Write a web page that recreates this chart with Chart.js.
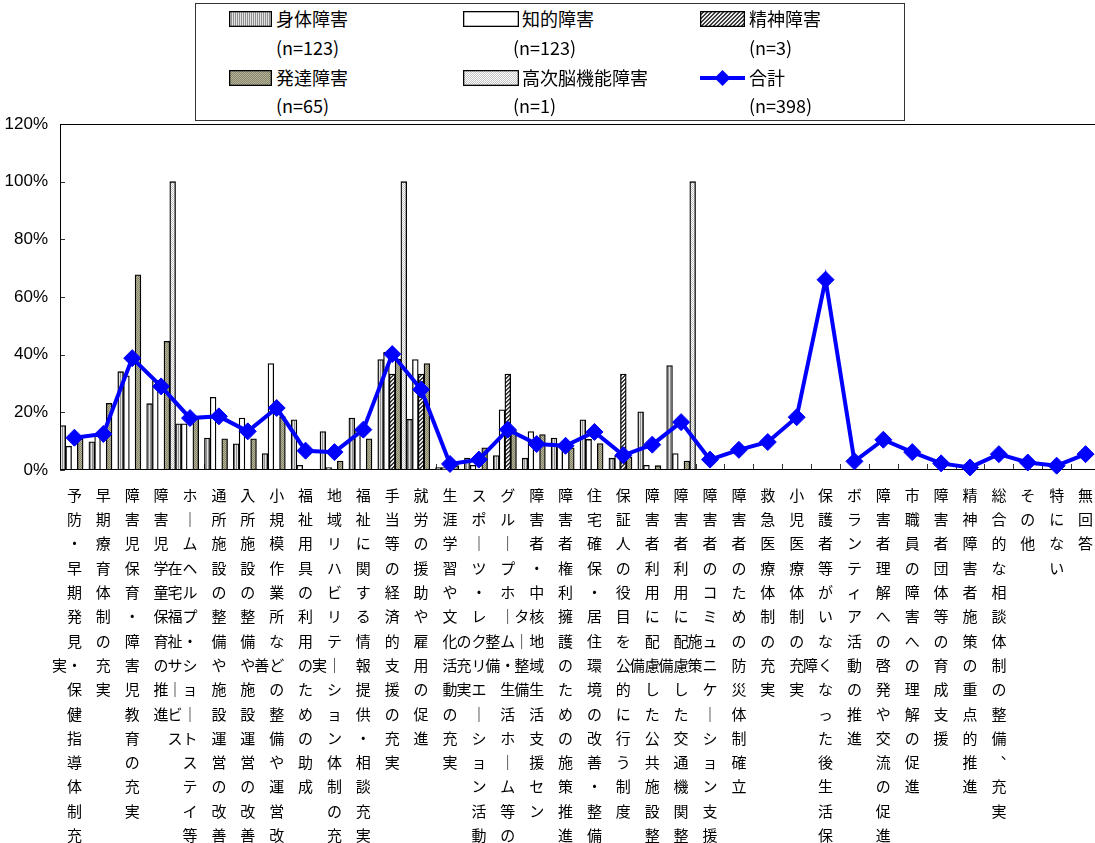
<!DOCTYPE html>
<html>
<head>
<meta charset="utf-8">
<script src="https://cdn.jsdelivr.net/npm/chart.js@4"></script>
<style>
html,body{margin:0;padding:0;background:#fff;overflow:hidden;}
#wrap{position:relative;width:1095px;height:843px;overflow:hidden;background:#fff;}
#c{position:absolute;left:0;top:0;}
#legend{position:absolute;left:195px;top:3px;width:710px;height:118px;border:1px solid #333;box-sizing:border-box;background:#fff;}
.sw{position:absolute;}
.lab{position:absolute;font-family:"Noto Sans CJK JP","Noto Sans",sans-serif;font-size:18px;line-height:20px;white-space:nowrap;color:#000;}
</style>
</head>
<body>
<div id="wrap">
  <canvas id="c" width="1100" height="843"></canvas>
  <div id="legend"></div>
</div>
<script>
// ---------------- data ----------------
const categories = [
  '予防・早期発見・保健指導体制充実',
  '早期療育体制の充実',
  '障害児保育・障害児教育の充実',
  '障害児学童保育の推進',
  '在宅福祉サービス(ホームヘルプ・ショートステイ等)',
  '通所施設の整備や施設運営の改善',
  '入所施設の整備や施設運営の改善',
  '小規模作業所などの整備や運営改善',
  '福祉用具の利用のための助成',
  '地域リハビリテーション体制の充実',
  '福祉に関する情報提供・相談充実',
  '手当等の経済的支援の充実',
  '就労の援助や雇用の促進',
  '生涯学習や文化活動の充実',
  'スポーツ・レクリエーション活動の充実',
  'グループホーム・生活ホーム等の整備',
  '障害者・中核地域生活支援センター整備',
  '障害者権利擁護のための施策推進',
  '住宅確保・居住環境の改善・整備',
  '保証人の役目を公的に行う制度',
  '障害者利用に配慮した公共施設整備',
  '障害者利用に配慮した交通機関整備',
  '障害者のコミュニケーション支援施策',
  '障害者のための防災体制確立',
  '救急医療体制の充実',
  '小児医療体制の充実',
  '保護者等がいなくなった後生活保障',
  'ボランティア活動の推進',
  '障害者理解への啓発や交流の促進',
  '市職員の障害への理解の促進',
  '障害者団体等の育成支援',
  '精神障害者施策の重点的推進',
  '総合的な相談体制の整備、充実',
  'その他',
  '特にない',
  '無回答'
];

const seriesNames = ['身体障害', '知的障害', '精神障害', '発達障害', '高次脳機能障害', '合計'];
const seriesN = [123, 123, 3, 65, 1, 398];

const shintai = [15.4, 9.8, 34.1, 23.0, 16.0, 11.1, 9.1, 5.7, 17.4, 13.3, 18.0, 38.3, 17.6, 0.8, 4.1, 5.0, 4.1, 11.1, 17.4, 4.1, 20.2, 36.2,
  null, null, null, null, null, null, null, null, null, null, null, null, null, null];
const chiteki = [8.2, 12.0, 32.7, 31.0, 16.0, 25.2, 18.0, 36.9, 1.6, 0.8, 14.0, 40.8, 38.3, 0.8, 1.6, 20.9, 13.3, 9.0, 10.6, 4.9, 1.6, 5.7,
  null, null, null, null, null, null, null, null, null, null, null, null, null, null];
const seishin = [0, 0, 0, 0, 0, 0, 0, 0, 0, 0, 0, 33.3, 33.3, 0, 0, 33.3, 0, 0, 0, 33.3, 0, 0,
  null, null, null, null, null, null, null, null, null, null, null, null, null, null];
const hattatsu = [10.8, 23.1, 67.7, 44.6, 18.5, 10.8, 10.8, 18.5, 0, 3.1, 10.8, 38.5, 36.9, 1.5, 7.7, 13.8, 12.3, 7.7, 9.2, 4.6, 1.5, 3.1,
  null, null, null, null, null, null, null, null, null, null, null, null, null, null];
const koujinou = [0, 0, 0, 100, 0, 0, 0, 0, 0, 0, 0, 100, 0, 0, 0, 0, 0, 0, 0, 0, 0, 100,
  null, null, null, null, null, null, null, null, null, null, null, null, null, null];
const goukei = [11.2, 12.5, 38.8, 29.0, 18.0, 18.6, 13.4, 21.5, 6.7, 6.2, 14.0, 40.2, 27.9, 2.1, 3.6, 14.0, 9.0, 8.4, 13.2, 5.1, 8.8, 16.6,
  3.6, 7.0, 9.7, 18.3, 66.0, 3.0, 10.5, 6.2, 2.3, 0.9, 5.5, 2.6, 1.5, 5.5];

const yTicks = [0, 20, 40, 60, 80, 100, 120];

// ---------------- vertical label layout (Excel style) ----------------
function vert(c) {
  if (c === 'ー') return '｜';
  if (c === '、') return '︑';
  return c;
}
function verticalLines(label) {
  let main, side = '';
  const m = label.match(/^(.*)\((.*)\)$/);
  if (m) { side = m[1]; main = m[2]; }
  else {
    let n = Math.min(15, label.length);
    while (n < label.length && /[ーァィゥェォャュョッっゃゅょ、。]/.test(label[n])) n--;
    main = label.slice(0, n); side = label.slice(n);
  }
  const mc = [...main].map(vert);
  const sc = [...side].map(vert);
  const start = 7 - Math.floor(sc.length / 2);
  return mc.map((c, i) => {
    const j = i - start;
    if (sc.length && j >= 0 && j < sc.length) return sc[j] + c + '\u3000';
    return c;
  });
}

// ---------------- fill patterns ----------------
function makePattern(ctx, kind) {
  const c = document.createElement('canvas');
  const g = c.getContext('2d');
  if (kind === 'white') return '#ffffff';
  if (kind === 'vstripe') {
    c.width = 2; c.height = 2;
    g.fillStyle = '#e2e2e2'; g.fillRect(0, 0, 2, 2);
    g.fillStyle = '#909090'; g.fillRect(0, 0, 1, 2);
  } else if (kind === 'diag') {
    c.width = 4; c.height = 4;
    g.fillStyle = '#eeeeee'; g.fillRect(0, 0, 4, 4);
    g.fillStyle = '#3c3c3c';
    for (let i = 0; i < 4; i++) { g.fillRect((3 - i), i, 1, 1); g.fillRect((4 - i) % 4, i, 1, 1); }
  } else if (kind === 'olive') {
    c.width = 2; c.height = 2;
    g.fillStyle = '#b6b49a'; g.fillRect(0, 0, 2, 2);
    g.fillStyle = '#88866a'; g.fillRect(0, 0, 1, 1); g.fillRect(1, 1, 1, 1);
  } else if (kind === 'dots') {
    c.width = 2; c.height = 2;
    g.fillStyle = '#ffffff'; g.fillRect(0, 0, 2, 2);
    g.fillStyle = '#c4c4c4'; g.fillRect(0, 0, 1, 1); g.fillRect(1, 1, 1, 1);
  }
  return ctx.createPattern(c, 'repeat');
}
const kinds = ['vstripe', 'white', 'diag', 'olive', 'dots'];

// ---------------- frame / inward ticks plugin ----------------
const framePlugin = {
  id: 'frame',
  beforeDatasetsDraw(chart) {
    const { ctx, chartArea: a, scales: { x, y } } = chart;
    ctx.save();
    ctx.strokeStyle = '#333';
    ctx.lineWidth = 1;
    ctx.beginPath();
    y.ticks.forEach(t => {
      const py = Math.round(y.getPixelForValue(t.value)) + 0.5;
      ctx.moveTo(a.left, py); ctx.lineTo(a.left + 5, py);
    });
    const half = (x.getPixelForValue(1) - x.getPixelForValue(0)) / 2;
    for (let i = 0; i <= categories.length; i++) {
      const px = Math.round(x.getPixelForValue(i) - half) + 0.5;
      ctx.moveTo(px, a.bottom); ctx.lineTo(px, a.bottom - 6);
    }
    ctx.stroke();
    ctx.strokeStyle = '#000';
    ctx.strokeRect(Math.round(a.left) + 0.5, Math.round(a.top) + 0.5,
      Math.round(a.right - a.left) - 1, Math.round(a.bottom - a.top) - 1);
    ctx.restore();
  }
};

// ---------------- chart ----------------
const canvas = document.getElementById('c');
const ctx = canvas.getContext('2d');
const barSeries = [shintai, chiteki, seishin, hattatsu, koujinou];

const datasets = barSeries.map((d, i) => ({
  type: 'bar',
  label: seriesNames[i],
  data: d,
  backgroundColor: makePattern(ctx, kinds[i]),
  borderColor: '#000',
  borderWidth: 1.3,
  borderSkipped: false,
  categoryPercentage: 1.0,
  barPercentage: 1.0,
  order: 1
}));
datasets.push({
  type: 'line',
  label: seriesNames[5],
  data: goukei,
  borderColor: '#0000ff',
  backgroundColor: '#0000ff',
  borderWidth: 4,
  pointStyle: 'rectRot',
  pointRadius: 8.5,
  pointBackgroundColor: '#0000ff',
  pointBorderColor: '#0000ff',
  pointBorderWidth: 1,
  tension: 0,
  order: 0,
  clip: false
});

const chart = new Chart(ctx, {
  data: { labels: categories.map(verticalLines), datasets },
  options: {
    responsive: false,
    animation: false,
    devicePixelRatio: 1,
    layout: { autoPadding: false, padding: { top: 124, right: 0, left: 0, bottom: 0 } },
    plugins: { legend: { display: false }, tooltip: { enabled: false } },
    scales: {
      x: {
        offset: true,
        grid: { display: false, drawTicks: false },
        border: { display: false },
        ticks: {
          autoSkip: false, maxRotation: 0, minRotation: 0, padding: 13, color: '#000',
          font: { family: '"Noto Sans CJK JP"', size: 15, lineHeight: '24.3px' }
        },
        afterFit(s) { s.height = 373; s.paddingLeft = 0; s.paddingRight = 0; }
      },
      y: {
        min: 0, max: 120,
        afterBuildTicks(s) { s.ticks = yTicks.map(v => ({ value: v })); },
        grid: { display: false, drawTicks: false },
        border: { display: false },
        ticks: {
          padding: 12, color: '#000',
          callback: v => v + '%',
          font: { family: '"Liberation Sans Narrow", "Liberation Sans", sans-serif', size: 17 }
        },
        afterFit(s) { s.width = 60; }
      }
    }
  },
  plugins: [framePlugin]
});

// ---------------- HTML legend ----------------
const legendLayout = [
  { sx: 229, sy: 11, sw: 43, tx: 276, ty: 8, nx: 276, ny: 37 },
  { sx: 463, sy: 11, sw: 56, tx: 522, ty: 8, nx: 513, ny: 37 },
  { sx: 700, sy: 11, sw: 45, tx: 749, ty: 8, nx: 749, ny: 37 },
  { sx: 229, sy: 70, sw: 43, tx: 276, ty: 67, nx: 276, ny: 95 },
  { sx: 463, sy: 70, sw: 56, tx: 522, ty: 67, nx: 513, ny: 95 },
  { sx: 700, sy: 70, sw: 45, tx: 749, ty: 67, nx: 749, ny: 95 }
];
const legend = document.getElementById('legend');
const L0 = 195 + 1, T0 = 3 + 1;
seriesNames.forEach((name, i) => {
  const p = legendLayout[i];
  const sw = document.createElement('canvas');
  sw.className = 'sw';
  sw.width = p.sw; sw.height = 16;
  sw.style.left = (p.sx - L0) + 'px';
  sw.style.top = (p.sy - T0) + 'px';
  const g = sw.getContext('2d');
  if (i < 5) {
    g.fillStyle = makePattern(g, kinds[i]);
    g.fillRect(0, 0, p.sw, 16);
    g.strokeStyle = '#000'; g.lineWidth = 1.3;
    g.strokeRect(0.65, 0.65, p.sw - 1.3, 16 - 1.3);
  } else {
    g.strokeStyle = '#0000ff'; g.lineWidth = 4;
    g.beginPath(); g.moveTo(0, 8); g.lineTo(p.sw, 8); g.stroke();
    g.fillStyle = '#0000ff';
    g.beginPath(); const cx = p.sw / 2;
    g.moveTo(cx, 0); g.lineTo(cx + 8, 8); g.lineTo(cx, 16); g.lineTo(cx - 8, 8); g.closePath(); g.fill();
  }
  legend.appendChild(sw);
  const t = document.createElement('div');
  t.className = 'lab'; t.textContent = name;
  t.style.left = (p.tx - L0) + 'px'; t.style.top = (p.ty - T0) + 'px';
  legend.appendChild(t);
  const n = document.createElement('div');
  n.className = 'lab'; n.textContent = '(n=' + seriesN[i] + ')';
  n.style.left = (p.nx - L0) + 'px'; n.style.top = (p.ny - T0) + 'px';
  legend.appendChild(n);
});
</script>
</body>
</html>
